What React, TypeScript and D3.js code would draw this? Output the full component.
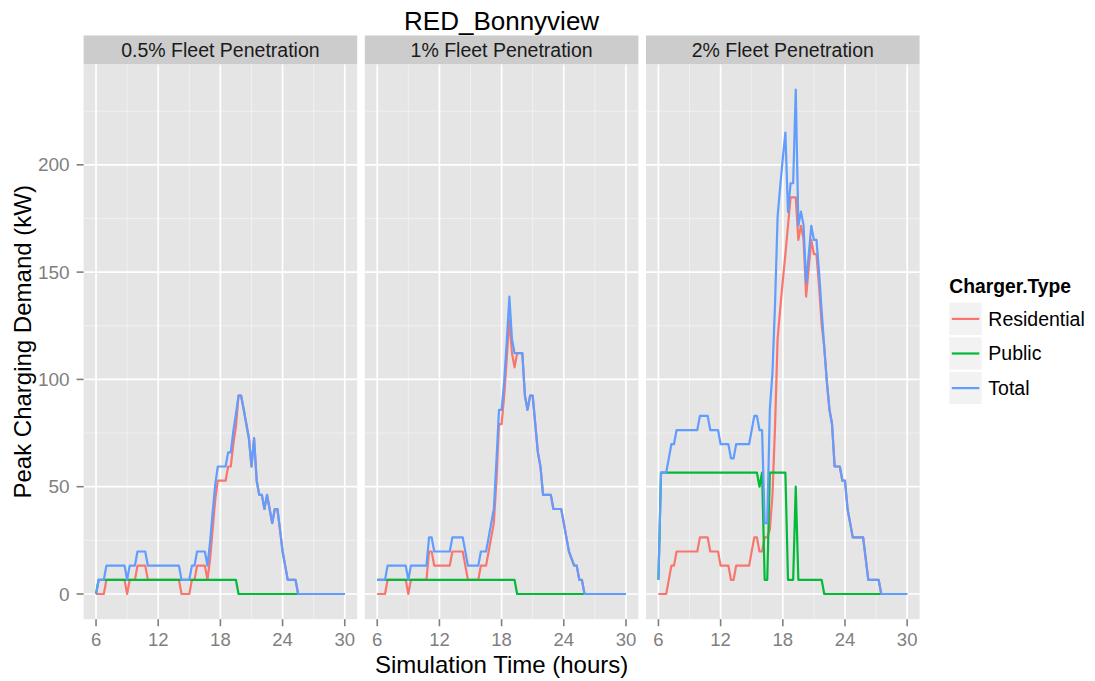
import React from "react";
import * as d3 from "d3";

// canvas
const W = 1095;
const H = 681;

const title = "RED_Bonnyview";
const panelNames = ["0.5% Fleet Penetration", "1% Fleet Penetration", "2% Fleet Penetration"];
const chargerTypes = ["Residential", "Public", "Total"];
const lineColors = ["#F8766D", "#00BA38", "#619CFF"];
const xTicks = [6, 12, 18, 24, 30];
const xMinor = [9, 15, 21, 27];
const yTicks = [0, 50, 100, 150, 200];
const yMinor = [25, 75, 125, 175, 225];

type Pt = [number, number];

// ---- 0.5% fleet penetration ----
const residential05: Pt[] = [
  [6, 0], [6.75, 0], [7, 6.6], [8.75, 6.6], [9, 0], [9.25, 6.6], [9.75, 6.6], [10, 13.2], [10.75, 13.2],
  [11, 6.6], [14, 6.6], [14.25, 0], [15, 0], [15.25, 6.6], [15.5, 6.6], [15.75, 13.2], [16.5, 13.2],
  [16.75, 6.6], [17, 16], [17.25, 30], [17.5, 44], [17.75, 52.8], [18.5, 52.8], [18.75, 59.4], [19, 59.4],
  [19.25, 70], [19.5, 78], [19.75, 92.4], [20, 92.4], [20.25, 86], [20.5, 79.2], [20.75, 72.6], [21, 59.4],
  [21.25, 72.6], [21.5, 52.8], [21.75, 46.2], [22, 46.2], [22.25, 39.6], [22.5, 46.2], [22.75, 39.6],
  [23, 33], [23.25, 39.6], [23.5, 39.6], [23.75, 30], [24, 19.8], [24.25, 13.2], [24.5, 6.6], [25.25, 6.6],
  [25.5, 0], [30, 0],
];
const public05: Pt[] = [[6, 0], [6.25, 6.6], [19.5, 6.6], [19.75, 0], [30, 0]];
const total05: Pt[] = [
  [6, 0], [6.25, 6.6], [6.75, 6.6], [7, 13.2], [8.75, 13.2], [9, 6.6], [9.25, 13.2], [9.75, 13.2], [10, 19.8],
  [10.75, 19.8], [11, 13.2], [14, 13.2], [14.25, 6.6], [15, 6.6], [15.25, 13.2], [15.5, 13.2], [15.75, 19.8],
  [16.5, 19.8], [16.75, 13.2], [17, 24], [17.25, 38], [17.5, 51], [17.75, 59.4], [18.5, 59.4], [18.75, 66],
  [19, 66], [19.25, 76], [19.5, 84], [19.75, 92.4], [20, 92.4], [20.25, 86], [20.5, 79.2], [20.75, 72.6],
  [21, 59.4], [21.25, 72.6], [21.5, 52.8], [21.75, 46.2], [22, 46.2], [22.25, 39.6], [22.5, 46.2],
  [22.75, 39.6], [23, 33], [23.25, 39.6], [23.5, 39.6], [23.75, 30], [24, 19.8], [24.25, 13.2], [24.5, 6.6],
  [25.25, 6.6], [25.5, 0], [30, 0],
];

// ---- 1% fleet penetration ----
const residential1: Pt[] = [
  [6, 0], [6.75, 0], [7, 6.6], [8.75, 6.6], [9, 0], [9.25, 6.6], [10.75, 6.6], [11, 19.8], [11.25, 19.8],
  [11.5, 13.2], [13, 13.2], [13.25, 19.8], [14.25, 19.8], [14.75, 6.6], [15.75, 6.6], [16, 13.2],
  [16.5, 13.2], [16.75, 19.8], [17, 26.4], [17.25, 33], [17.5, 52.8], [17.75, 79.2], [18, 79.2],
  [18.25, 92.4], [18.5, 110], [18.75, 128], [19, 112.2], [19.25, 105.6], [19.5, 112.2], [20, 112.2],
  [20.25, 92.4], [20.5, 85.8], [20.75, 92.4], [21, 92.4], [21.25, 79.2], [21.5, 66], [21.75, 59.4],
  [22, 46.2], [22.75, 46.2], [23, 39.6], [23.75, 39.6], [24, 33], [24.25, 26.4], [24.5, 19.8], [25, 13.2],
  [25.25, 13.2], [25.5, 6.6], [25.75, 6.6], [26, 0], [30, 0],
];
const public1: Pt[] = [[6, 6.6], [19.25, 6.6], [19.5, 0], [30, 0]];
const total1: Pt[] = [
  [6, 6.6], [6.75, 6.6], [7, 13.2], [8.75, 13.2], [9, 6.6], [9.25, 13.2], [10.75, 13.2], [11, 26.4],
  [11.25, 26.4], [11.5, 19.8], [13, 19.8], [13.25, 26.4], [14.25, 26.4], [14.75, 13.2], [15.75, 13.2],
  [16, 19.8], [16.5, 19.8], [16.75, 26.4], [17, 33], [17.25, 39.6], [17.5, 62], [17.75, 85.8], [18, 85.8],
  [18.25, 99], [18.5, 118], [18.75, 138.6], [19, 118.8], [19.25, 112.2], [20, 112.2], [20.25, 92.4],
  [20.5, 85.8], [20.75, 92.4], [21, 92.4], [21.25, 79.2], [21.5, 66], [21.75, 59.4], [22, 46.2],
  [22.75, 46.2], [23, 39.6], [23.75, 39.6], [24, 33], [24.25, 26.4], [24.5, 19.8], [25, 13.2], [25.25, 13.2],
  [25.5, 6.6], [25.75, 6.6], [26, 0], [30, 0],
];

// ---- 2% fleet penetration ----
const residential2: Pt[] = [
  [6, 0], [6.75, 0], [7, 6.6], [7.25, 13.2], [7.5, 13.2], [7.75, 19.8], [9.75, 19.8], [10, 26.4],
  [10.75, 26.4], [11, 19.8], [11.75, 19.8], [12, 13.2], [12.75, 13.2], [13, 6.6], [13.25, 6.6], [13.5, 13.2],
  [14.75, 13.2], [15.25, 26.4], [15.5, 26.4], [15.75, 19.8], [16, 19.8], [16.25, 26.4], [16.5, 26.4],
  [16.75, 30], [17, 46], [17.25, 78], [17.5, 119], [17.75, 133], [18, 146], [18.25, 158.4], [18.5, 171.6],
  [18.75, 184.8], [19, 184.8], [19.25, 184.8], [19.5, 165], [19.75, 171.6], [20, 165.4], [20.25, 138.6],
  [20.5, 151.8], [20.75, 165], [21, 158.4], [21.25, 158.4], [21.5, 143.4], [21.75, 125.4], [22, 115],
  [22.25, 99], [22.5, 86], [22.75, 79.2], [23, 59.4], [23.5, 59.4], [23.75, 52.8], [24, 52.8], [24.25, 39.6],
  [24.5, 33], [24.75, 26.4], [25.75, 26.4], [26, 16.5], [26.25, 6.6], [27.25, 6.6], [27.5, 0], [30, 0],
];
const public2: Pt[] = [
  [6, 6.6], [6.25, 56.6], [15.5, 56.6], [15.75, 50], [16, 56.6], [16.25, 6.6], [16.5, 6.6], [16.75, 56.6],
  [18.25, 56.6], [18.5, 6.6], [19, 6.6], [19.25, 50], [19.5, 6.6], [21.75, 6.6], [22, 0], [30, 0],
];
const total2: Pt[] = [
  [6, 6.6], [6.25, 56.6], [6.75, 56.6], [7, 63.2], [7.25, 69.8], [7.5, 69.8], [7.75, 76.4], [9.75, 76.4],
  [10, 83], [10.75, 83], [11, 76.4], [11.75, 76.4], [12, 69.8], [12.75, 69.8], [13, 63.2], [13.25, 63.2],
  [13.5, 69.8], [14.75, 69.8], [15.25, 83], [15.5, 83], [15.75, 76.4], [16, 76.4], [16.25, 33], [16.5, 33],
  [16.75, 86], [17, 103], [17.25, 135], [17.5, 176], [17.75, 190], [18, 203], [18.25, 215], [18.5, 178],
  [18.75, 191.4], [19, 191.4], [19.25, 235], [19.5, 171.6], [19.75, 178.2], [20, 172], [20.25, 145],
  [20.5, 158], [20.75, 171.6], [21, 165], [21.25, 165], [21.5, 150], [21.75, 132], [22, 115], [22.25, 99],
  [22.5, 86], [22.75, 79.2], [23, 59.4], [23.5, 59.4], [23.75, 52.8], [24, 52.8], [24.25, 39.6], [24.5, 33],
  [24.75, 26.4], [25.75, 26.4], [26, 16.5], [26.25, 6.6], [27.25, 6.6], [27.5, 0], [30, 0],
];

const panelSeries: Pt[][][] = [
  [residential05, public05, total05],
  [residential1, public1, total1],
  [residential2, public2, total2],
];

// layout
const panelLeft = 83.6;
const panelW = 273.6;
const panelGap = 7.6;
const plotTop = 64.5;
const plotBottom = 619.2;
const stripTop = 35.5;

const font = "'Liberation Sans', Arial, Helvetica, sans-serif";
const grey50 = "#7F7F7F";

export default function App() {
  const x = d3.scaleLinear().domain([4.8, 31.2]).range([0, panelW]);
  const allY = panelSeries.flat(2).map((p) => p[1]);
  const yMax = d3.max(allY) ?? 0;
  const yMin = d3.min(allY) ?? 0;
  const pad = (yMax - yMin) * 0.05;
  const y = d3.scaleLinear().domain([yMin - pad, yMax + pad]).range([plotBottom, plotTop]);

  const line = d3
    .line<Pt>()
    .x((d) => x(d[0]))
    .y((d) => y(d[1]));

  const plotCenter = panelLeft + (3 * panelW + 2 * panelGap) / 2;

  return (
    <svg
      width={W}
      height={H}
      style={{ position: "absolute", left: 0, top: 0, background: "#fff", fontFamily: font }}
    >
      <text x={plotCenter} y={29.5} textAnchor="middle" fontSize={26} fill="#000">
        {title}
      </text>

      {panelNames.map((name, pi) => {
        const ox = panelLeft + pi * (panelW + panelGap);
        return (
          <g key={name} transform={`translate(${ox},0)`}>
            {/* strip */}
            <rect x={0} y={stripTop} width={panelW} height={plotTop - stripTop} fill="#CCCCCC" />
            <text
              x={panelW / 2}
              y={(stripTop + plotTop) / 2}
              dy="0.35em"
              textAnchor="middle"
              fontSize={19.5}
              fill="#1A1A1A"
            >
              {name}
            </text>

            {/* panel */}
            <rect x={0} y={plotTop} width={panelW} height={plotBottom - plotTop} fill="#E5E5E5" />
            {xMinor.map((t) => (
              <line key={"xm" + t} x1={x(t)} x2={x(t)} y1={plotTop} y2={plotBottom} stroke="#F2F2F2" strokeWidth={0.9} />
            ))}
            {yMinor.map((t) => (
              <line key={"ym" + t} x1={0} x2={panelW} y1={y(t)} y2={y(t)} stroke="#F2F2F2" strokeWidth={0.9} />
            ))}
            {xTicks.map((t) => (
              <line key={"xM" + t} x1={x(t)} x2={x(t)} y1={plotTop} y2={plotBottom} stroke="#fff" strokeWidth={1.7} />
            ))}
            {yTicks.map((t) => (
              <line key={"yM" + t} x1={0} x2={panelW} y1={y(t)} y2={y(t)} stroke="#fff" strokeWidth={1.7} />
            ))}

            {/* series */}
            {panelSeries[pi].map((s, si) => (
              <path
                key={si}
                d={line(s) ?? ""}
                fill="none"
                stroke={lineColors[si]}
                strokeWidth={2.2}
                strokeLinejoin="round"
              />
            ))}

            {/* x axis */}
            {xTicks.map((t) => (
              <g key={"xt" + t}>
                <line x1={x(t)} x2={x(t)} y1={plotBottom} y2={plotBottom + 7} stroke={grey50} strokeWidth={1.6} />
                <text x={x(t)} y={646} textAnchor="middle" fontSize={18.5} fill={grey50}>
                  {t}
                </text>
              </g>
            ))}
          </g>
        );
      })}

      {/* y axis */}
      {yTicks.map((t) => (
        <g key={"yt" + t}>
          <line x1={panelLeft - 7} x2={panelLeft} y1={y(t)} y2={y(t)} stroke={grey50} strokeWidth={1.6} />
          <text x={panelLeft - 14} y={y(t)} dy="0.35em" textAnchor="end" fontSize={19} fill={grey50}>
            {t}
          </text>
        </g>
      ))}

      <text x={plotCenter} y={672.5} textAnchor="middle" fontSize={24} fill="#000">
        Simulation Time (hours)
      </text>
      <text
        transform={`translate(31,${(plotTop + plotBottom) / 2}) rotate(-90)`}
        textAnchor="middle"
        fontSize={24}
        fill="#000"
      >
        Peak Charging Demand (kW)
      </text>

      {/* legend */}
      <g transform="translate(949.3,0)">
        <text x={0} y={292.7} fontSize={19.3} fontWeight="bold" fill="#000">
          Charger.Type
        </text>
        {chargerTypes.map((c, i) => {
          const top = 302.7 + i * 34.6;
          return (
            <g key={c}>
              <rect x={0} y={top} width={32.3} height={32.3} fill="#F2F2F2" />
              <line x1={2.5} x2={30} y1={top + 16.2} y2={top + 16.2} stroke={lineColors[i]} strokeWidth={2.2} />
              <text x={39} y={top + 16.2} dy="0.35em" fontSize={19.5} fill="#000">
                {c}
              </text>
            </g>
          );
        })}
      </g>
    </svg>
  );
}
